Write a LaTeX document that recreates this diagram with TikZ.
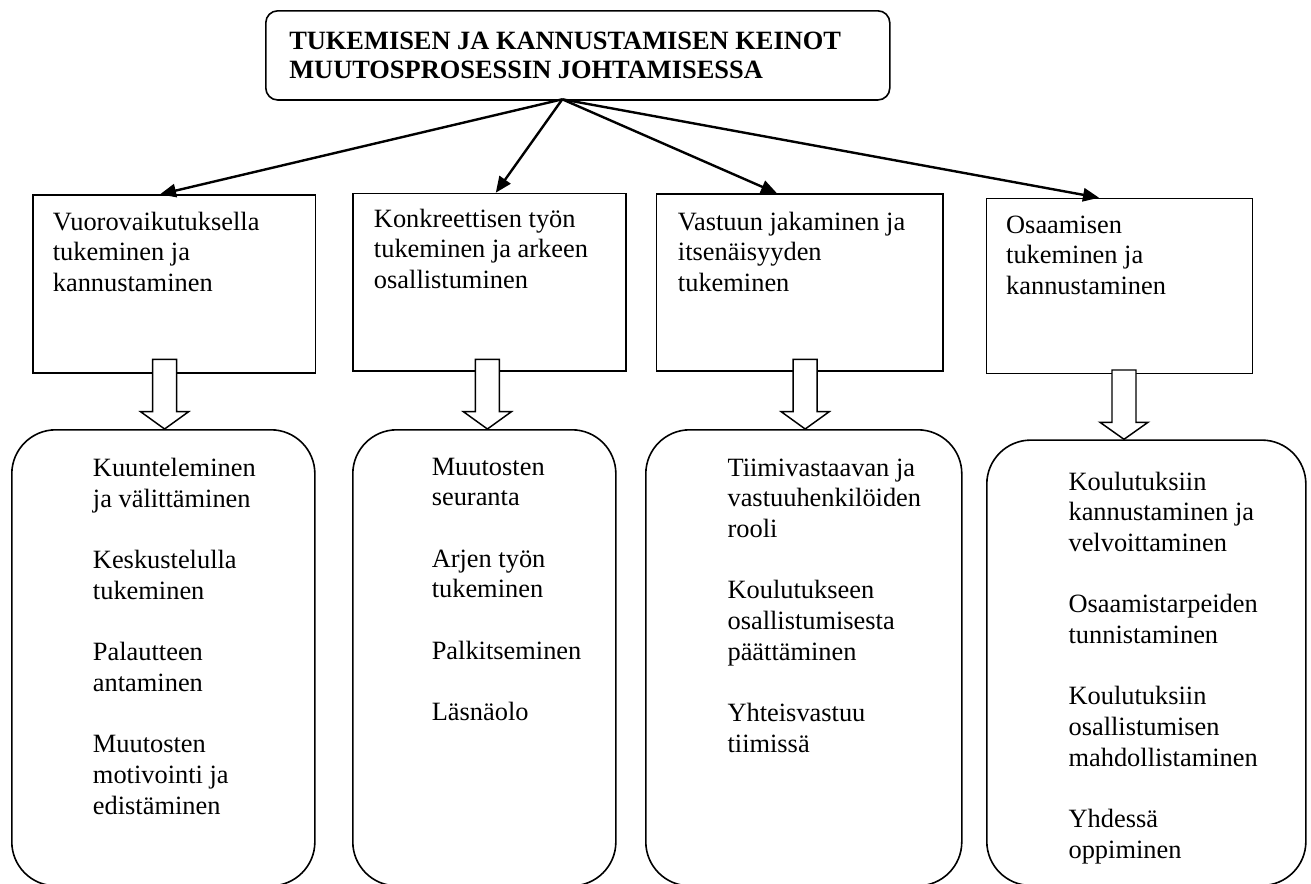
\documentclass[tikz,border=0pt]{standalone}
\usepackage{fontspec}
\setmainfont{Liberation Serif}
\usetikzlibrary{arrows.meta}
\newcommand\blkarrow[4]{% center x, shaft top y, head base y, tip y
  \draw[blockarrow] (#1-12,#2) -- (#1+12,#2) -- (#1+12,#3) -- (#1+24,#3) -- (#1,#4) -- (#1-24,#3) -- (#1-12,#3) -- cycle;}
\newcommand\txtblock[1]{\parbox[t]{12cm}{\raggedright\fontsize{19.8pt}{23pt}\selectfont #1}}
\begin{document}
\begin{tikzpicture}[x=0.75pt,y=-0.75pt,
  box/.style={draw, line width=1.2pt, fill=white, rectangle, inner sep=0pt, anchor=north west},
  topbox/.style={draw, line width=1.2pt, rounded corners=9pt, inner sep=0pt, anchor=north west},
  roundbox/.style={draw, line width=1.2pt, rounded corners=33pt, inner sep=0pt, anchor=north west},
  txt/.style={anchor=base west, inner sep=0pt},
  arr/.style={line width=1.8pt, -{Triangle[length=12pt,width=10pt]}},
  blockarrow/.style={draw, line width=1.1pt, fill=white, line join=miter}]
\useasboundingbox (0,0) rectangle (1311,883);
\clip (0,0) rectangle (1311,883);
% top box
\node[topbox, minimum width=468pt, minimum height=66.9pt] (top) at (265,10) {};
\node[txt] (title) at (289,49.3) {\parbox[t]{20cm}{\raggedright\fontsize{19.8pt}{21.75pt}\selectfont\bfseries TUKEMISEN JA KANNUSTAMISEN KEINOT\\ MUUTOSPROSESSIN JOHTAMISESSA}};
% second row boxes
\node[box, minimum width=211.8pt, minimum height=133.5pt] (b1) at (32.4,194.3) {};
\node[box, minimum width=204.8pt, minimum height=133.2pt] (b2) at (352.3,192.7) {};
\node[box, minimum width=214.7pt, minimum height=132.8pt] (b3) at (655.8,193.3) {};
\node[box, minimum width=199.5pt, minimum height=131.3pt] (b4) at (985.7,197.7) {};
\node[txt] (tb1) at (52.6,230) {\txtblock{Vuorovaikutuksella\\ tukeminen ja\\ kannustaminen}};
\node[txt] (tb2) at (373.7,227.3) {\txtblock{Konkreettisen työn\\ tukeminen ja arkeen\\ osallistuminen}};
\node[txt] (tb3) at (677.7,230) {\txtblock{Vastuun jakaminen ja\\ itsenäisyyden\\ tukeminen}};
\node[txt] (tb4) at (1005.9,233.3) {\txtblock{Osaamisen\\ tukeminen ja\\ kannustaminen}};
% arrows from top box
\coordinate (o) at (562.3,99.3);
\coordinate (t1) at (160,194.3);
\coordinate (t2) at (495.8,192.7);
\coordinate (t3) at (777,193.3);
\coordinate (t4) at (1099,197.7);
\draw[arr] (o) -- (t1);
\draw[arr] (o) -- (t2);
\draw[arr] (o) -- (t3);
\draw[arr] (o) -- (t4);
% bottom rounded boxes
\node[roundbox, minimum width=227.3pt, minimum height=342pt] (c1) at (11,429) {};
\node[roundbox, minimum width=197.3pt, minimum height=342pt] (c2) at (352,429) {};
\node[roundbox, minimum width=237pt, minimum height=342pt] (c3) at (645,429) {};
\node[roundbox, minimum width=239.3pt, minimum height=334pt] (c4) at (986,439.3) {};
% block arrows
\blkarrow{164.6}{359.3}{411.7}{429}
\blkarrow{487.4}{359.3}{411.7}{429}
\blkarrow{805.2}{359.3}{411.7}{429}
\blkarrow{1124}{370}{422.3}{439.3}
% bottom texts
\node[txt] (tc1) at (92.7,476.7) {\txtblock{Kuunteleminen\\ ja välittäminen\\[23pt] Keskustelulla\\ tukeminen\\[23pt] Palautteen\\ antaminen\\[23pt] Muutosten\\ motivointi ja\\ edistäminen}};
\node[txt] (tc2) at (431.5,475) {\txtblock{Muutosten\\ seuranta\\[23pt] Arjen työn\\ tukeminen\\[23pt] Palkitseminen\\[23pt] Läsnäolo}};
\node[txt] (tc3) at (727.3,476) {\txtblock{Tiimivastaavan ja\\ vastuuhenkilöiden\\ rooli\\[23pt] Koulutukseen\\ osallistumisesta\\ päättäminen\\[23pt] Yhteisvastuu\\ tiimissä}};
\node[txt] (tc4) at (1068.3,490) {\txtblock{Koulutuksiin\\ kannustaminen ja\\ velvoittaminen\\[23pt] Osaamistarpeiden\\ tunnistaminen\\[23pt] Koulutuksiin\\ osallistumisen\\ mahdollistaminen\\[23pt] Yhdessä\\ oppiminen}};
\end{tikzpicture}
\end{document}
